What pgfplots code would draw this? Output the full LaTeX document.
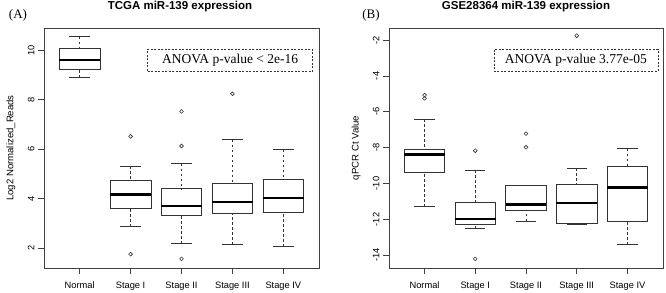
\documentclass[border=0pt]{standalone}
\usepackage{fontspec}
\setmainfont{Liberation Serif}
\setsansfont{Liberation Sans}
\usepackage{pgfplots}
\pgfplotsset{compat=1.18}
\usepgfplotslibrary{statistics}
\pgfplotsset{
  rbox/.style={
    black!80, line width=0.8pt, solid,
    mark=o, mark size=1.9pt, mark options={solid, line width=0.6pt},
    boxplot/draw direction=y,
    boxplot/box extend=0.8, boxplot/whisker extend=0.4,
    boxplot/every median/.style={line width=2.5pt, black},
    boxplot/draw/lower whisker/.code={
      \draw[dash pattern=on 2.5pt off 2.5pt, line width=0.7pt] (boxplot cs:\pgfplotsboxplotvalue{lower whisker}) -- (boxplot cs:\pgfplotsboxplotvalue{lower quartile});
      \draw (boxplot whisker cs:\pgfplotsboxplotvalue{lower whisker},0) -- (boxplot whisker cs:\pgfplotsboxplotvalue{lower whisker},1);
    },
    boxplot/draw/upper whisker/.code={
      \draw[dash pattern=on 2.5pt off 2.5pt, line width=0.7pt] (boxplot cs:\pgfplotsboxplotvalue{upper whisker}) -- (boxplot cs:\pgfplotsboxplotvalue{upper quartile});
      \draw (boxplot whisker cs:\pgfplotsboxplotvalue{upper whisker},0) -- (boxplot whisker cs:\pgfplotsboxplotvalue{upper whisker},1);
    },
  },
  rpanel/.style={
    scale only axis, width=275pt, height=240pt, anchor=south west,
    xmin=0.3, xmax=5.7,
    xtick={1,2,3,4,5},
    xticklabels={Normal,Stage I,Stage II,Stage III,Stage IV},
    tick align=outside, major tick length=6pt,
    xtick pos=bottom, ytick pos=left,
    tick style={black!75, line width=0.7pt},
    axis line style={black!75, line width=0.8pt},
    /pgf/number format/assume math mode=true,
    tick label style={font=\sffamily\fontsize{9.3}{11}\selectfont},
    xticklabel style={yshift=-4pt},
    yticklabel style={rotate=90, anchor=south},
    every axis y label/.style={at={(axis description cs:-0.12,0.5)}, rotate=90, anchor=center, font=\sffamily\fontsize{9.6}{11}\selectfont},
    clip=false,
  },
}
\tikzset{anova/.style={draw=black!80, dash pattern=on 2pt off 1.5pt, line width=0.7pt, inner sep=0pt, minimum height=21.7pt, font=\fontsize{13.5}{15}\selectfont},
  ptitle/.style={anchor=base, font=\sffamily\bfseries\fontsize{11.5}{13}\selectfont}}
\begin{document}
\begin{tikzpicture}
\useasboundingbox (0,0) rectangle (666pt,292pt);
\begin{axis}[rpanel, at={(44pt,24pt)},
  ymin=1.19, ymax=10.89, ytick={2,4,6,8,10},
  ylabel={Log2 Normalized\_Reads}]
\addplot[rbox, boxplot prepared={draw position=1, lower whisker=8.88, lower quartile=9.22, median=9.60, upper quartile=10.07, upper whisker=10.54}] coordinates {};
\addplot[rbox, boxplot prepared={draw position=2, lower whisker=2.86, lower quartile=3.60, median=4.16, upper quartile=4.73, upper whisker=5.31}] table[row sep=\\, y index=0] {data\\ 1.75\\ 6.51\\};
\addplot[rbox, boxplot prepared={draw position=3, lower whisker=2.17, lower quartile=3.33, median=3.70, upper quartile=4.39, upper whisker=5.41}] table[row sep=\\, y index=0] {data\\ 1.56\\ 6.12\\ 7.52\\};
\addplot[rbox, boxplot prepared={draw position=4, lower whisker=2.13, lower quartile=3.39, median=3.85, upper quartile=4.59, upper whisker=6.38}] table[row sep=\\, y index=0] {data\\ 8.23\\};
\addplot[rbox, boxplot prepared={draw position=5, lower whisker=2.05, lower quartile=3.45, median=4.01, upper quartile=4.78, upper whisker=5.97}] coordinates {};
\node[anova, minimum width=165pt] at (rel axis cs:0.677,0.866) {ANOVA p-value < 2e-16};
\end{axis}
\begin{axis}[rpanel, at={(389pt,24pt)}, width=274pt,
  ymin=-14.71, ymax=-1.33, ytick={-14,-12,-10,-8,-6,-4,-2},
  ylabel={qPCR Ct Value}]
\addplot[rbox, boxplot prepared={draw position=1, lower whisker=-11.29, lower quartile=-9.36, median=-8.39, upper quartile=-8.11, upper whisker=-6.41}] table[row sep=\\, y index=0] {data\\ -5.07\\ -5.25\\};
\addplot[rbox, boxplot prepared={draw position=2, lower whisker=-12.48, lower quartile=-12.30, median=-11.98, upper quartile=-11.03, upper whisker=-9.25}] table[row sep=\\, y index=0] {data\\ -8.17\\ -14.20\\};
\addplot[rbox, boxplot prepared={draw position=3, lower whisker=-12.09, lower quartile=-11.50, median=-11.16, upper quartile=-10.13, upper whisker=-10.13}] table[row sep=\\, y index=0] {data\\ -7.22\\ -7.98\\};
\addplot[rbox, boxplot prepared={draw position=4, lower whisker=-12.30, lower quartile=-12.21, median=-11.10, upper quartile=-10.07, upper whisker=-9.16}] table[row sep=\\, y index=0] {data\\ -1.76\\};
\addplot[rbox, boxplot prepared={draw position=5, lower whisker=-13.40, lower quartile=-12.09, median=-10.23, upper quartile=-9.02, upper whisker=-8.07}] coordinates {};
\node[anova, minimum width=164pt] at (rel axis cs:0.682,0.866) {ANOVA p-value 3.77e-05};
\end{axis}
\node[ptitle] at (180pt,282pt) {TCGA miR-139 expression};
\node[ptitle] at (526pt,282pt) {GSE28364 miR-139 expression};
\node[font=\fontsize{13}{15}\selectfont] at (18pt,277pt) {(A)};
\node[font=\fontsize{13}{15}\selectfont] at (371pt,277pt) {(B)};
\end{tikzpicture}
\end{document}
